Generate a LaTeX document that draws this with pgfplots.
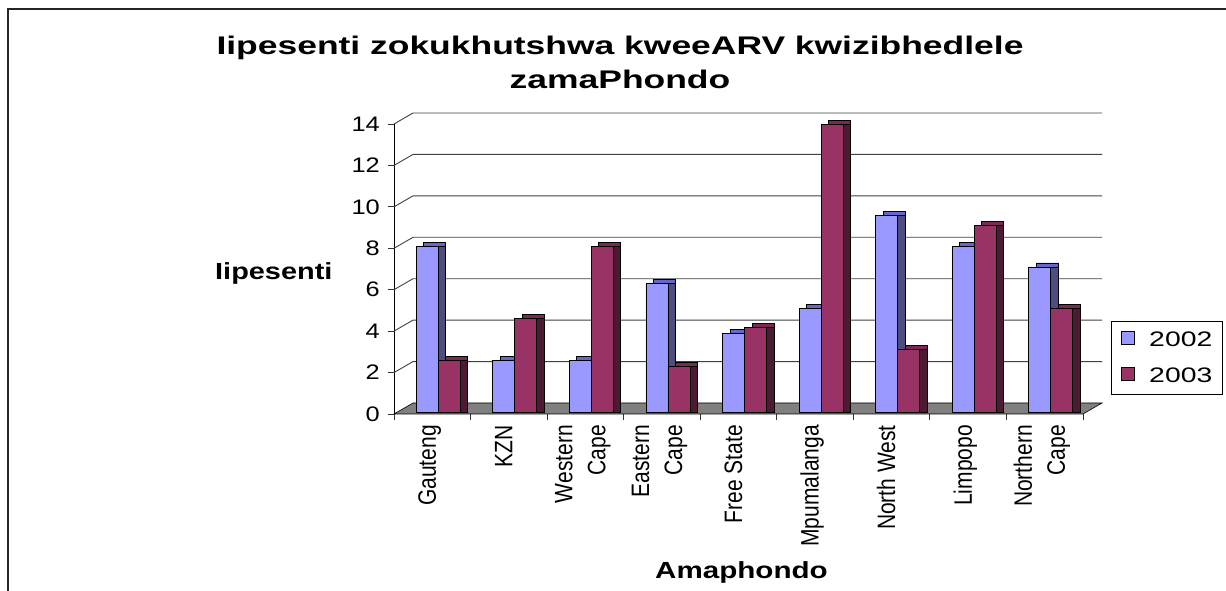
\documentclass[border=0pt]{standalone}
\usepackage{fontspec}
\setmainfont{Liberation Sans}
\usepackage{graphicx}
\usepackage{pgfplots}
\usepackage{pgfplotstable}
\pgfplotsset{compat=1.18}

\definecolor{b2002}{HTML}{9999FF}
\definecolor{b2002top}{HTML}{6666CC}
\definecolor{b2002side}{HTML}{4D4D80}
\definecolor{m2003}{HTML}{993366}
\definecolor{m2003top}{HTML}{7A2952}
\definecolor{m2003side}{HTML}{4D1A33}
\definecolor{floorgray}{HTML}{808080}

\newcommand\rl[1]{\scalebox{1.2}[1]{\rotatebox{90}{\fontsize{21}{27.5}\selectfont\begin{tabular}{@{}r@{}}#1\end{tabular}}}}

\pgfplotstableread{
x y02 y03
0 8.0 2.5
1 2.5 4.5
2 2.5 8.0
3 6.2 2.2
4 3.8 4.1
5 5.0 13.9
6 9.5 3.0
7 8.0 9.0
8 7.0 5.0
}\datatable

\begin{document}
\begin{tikzpicture}
\useasboundingbox (0,0) rectangle (1226pt,591pt);
\draw[line width=1.3pt, black!85] (8pt,0pt) -- (8pt,582pt) -- (1226pt,582pt);
\begin{axis}[
  at={(394pt,177pt)}, anchor=south west,
  scale only axis, width=689pt, height=290pt,
  xmin=-0.5, xmax=8.5, ymin=0, ymax=14,
  clip=false,
  axis lines*=left,
  axis line style={black, line width=1pt},
  tick align=outside,
  xtick={0,...,8},
  xticklabels={\rl{Gauteng},\rl{KZN},\rl{Western\\Cape},\rl{Eastern\\Cape},\rl{Free State},\rl{Mpumalanga},\rl{North West},\rl{Limpopo},\rl{Northern\\Cape}},
  major x tick style={draw=none},
  minor xtick={-0.5,0.5,...,8.5},
  minor tick length=6pt,
  minor x tick style={black!80, line width=0.8pt},
  ytick={0,2,...,14},
  major tick length=6pt,
  ytick style={black!80, line width=0.8pt},
  yticklabel={\scalebox{1.21}[1]{\pgfmathprintnumber[assume math mode=true]{\tick}}},
  yticklabel style={font=\fontsize{21}{25}\selectfont, inner sep=0pt, xshift=-8pt},
  xticklabel style={anchor=north, inner sep=0pt, yshift=-5pt, xshift=-3pt},
  legend style={at={(axis description cs:1.0407,0.3207)}, anchor=north west,
    draw=black, line width=0.8pt, inner xsep=10pt, inner ysep=10pt,
    row sep=19pt, font=\fontsize{21}{25}\selectfont,
    nodes={inner sep=0pt},
    /tikz/every odd column/.style={column sep=14pt}},
  legend cell align=left,
  legend image code/.code={\draw[#1, draw=black, line width=0.8pt] (0pt,-6.5pt) rectangle (13pt,6.5pt);},
]
% floor
\filldraw[fill=floorgray, draw=black, line width=0.6pt] (axis cs:-0.5,0) -- (axis cs:8.5,0) -- ([shift={(19pt,11pt)}]axis cs:8.5,0) -- ([shift={(19pt,11pt)}]axis cs:-0.5,0) -- cycle;
% back wall grid
\pgfplotsinvokeforeach{2,4,...,14}{
  \draw[black!75, line width=0.9pt] (axis cs:-0.5,#1) -- ([shift={(19pt,11pt)}]axis cs:-0.5,#1) -- ([shift={(19pt,11pt)}]axis cs:8.5,#1);
}
% 2002 series
\addplot[ybar, bar width=22pt, bar shift=2.5pt, yshift=6pt, fill=b2002top, draw=black, line width=0.8pt, forget plot] table[x=x,y=y02]{\datatable};
\addplot[ybar, bar width=22pt, bar shift=2.5pt, yshift=2pt, fill=b2002side, draw=black, line width=0.8pt, forget plot] table[x=x,y=y02]{\datatable};
\addplot[ybar, bar width=22pt, bar shift=-5pt, yshift=2pt, fill=b2002, draw=black, line width=0.8pt] table[x=x,y=y02]{\datatable};
\addlegendentry{\scalebox{1.35}[1]{2002}}
% 2003 series
\addplot[ybar, bar width=22pt, bar shift=24.5pt, yshift=6pt, fill=m2003top, draw=black, line width=0.8pt, forget plot] table[x=x,y=y03]{\datatable};
\addplot[ybar, bar width=22pt, bar shift=24.5pt, yshift=2pt, fill=m2003side, draw=black, line width=0.8pt, forget plot] table[x=x,y=y03]{\datatable};
\addplot[ybar, bar width=22pt, bar shift=17pt, yshift=2pt, fill=m2003, draw=black, line width=0.8pt] table[x=x,y=y03]{\datatable};
\addlegendentry{\scalebox{1.35}[1]{2003}}
\end{axis}
\node[anchor=base, font=\bfseries\fontsize{25.5}{30}\selectfont] at (620pt,536.7pt) {\scalebox{1.39}[1]{Iipesenti zokukhutshwa kweeARV kwizibhedlele}};
\node[anchor=base, font=\bfseries\fontsize{25.5}{30}\selectfont] at (620pt,502pt) {\scalebox{1.39}[1]{zamaPhondo}};
\node[anchor=base west, inner sep=0pt, font=\bfseries\fontsize{23.3}{28}\selectfont] at (215pt,311pt) {\scalebox{1.24}[1]{Iipesenti}};
\node[anchor=base, font=\bfseries\fontsize{23.3}{28}\selectfont] at (741.5pt,12.7pt) {\scalebox{1.27}[1]{Amaphondo}};
\end{tikzpicture}
\end{document}
